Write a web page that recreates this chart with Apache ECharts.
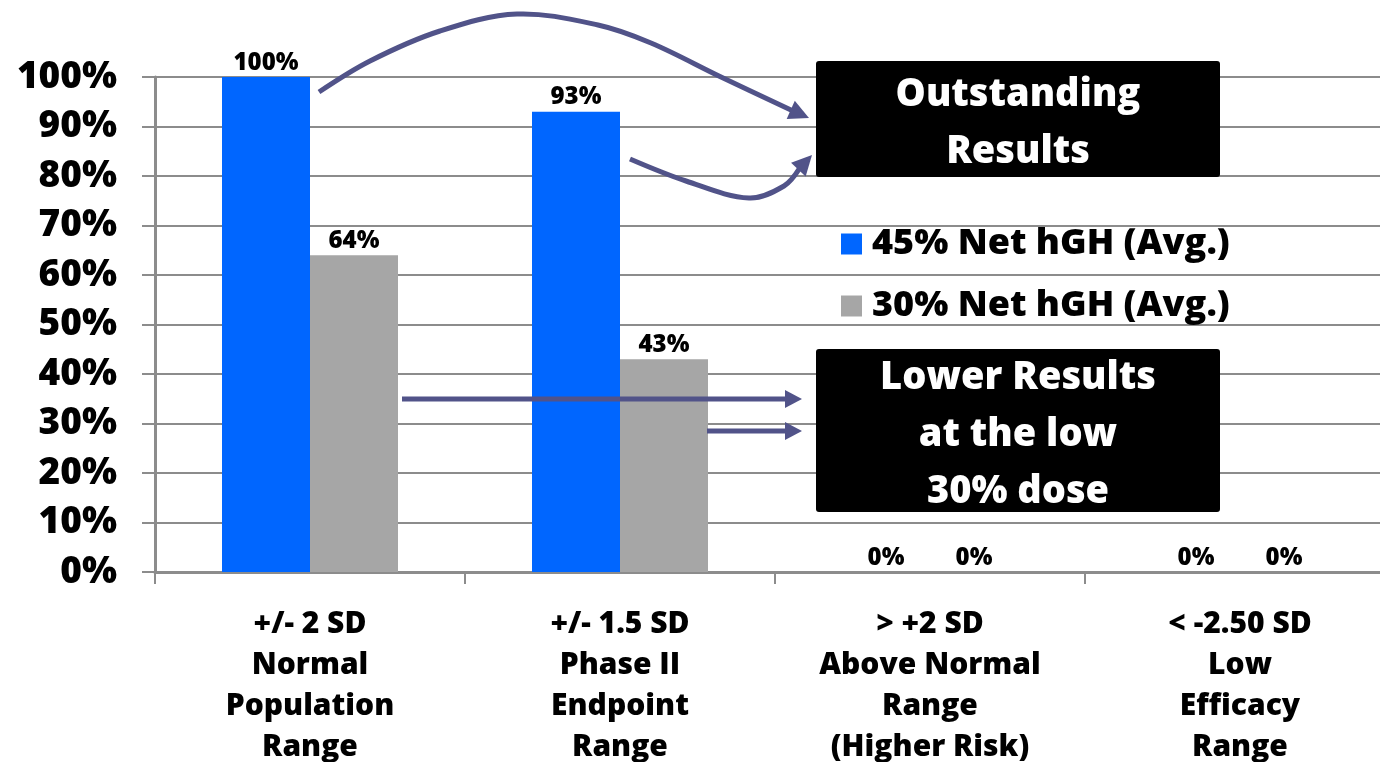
<!DOCTYPE html>
<html>
<head>
<meta charset="utf-8">
<script src="https://cdn.jsdelivr.net/npm/echarts@6/dist/echarts.min.js"></script>
<style>
  html, body { margin: 0; padding: 0; background: #fff; }
  #chart { width: 1380px; height: 762px; }
</style>
</head>
<body>
<div id="chart"></div>
<script>
// Categories (SD ranges) and the share of subjects in each range, per dose
const categories = [
  '+/- 2 SD\nNormal\nPopulation\nRange',
  '+/- 1.5 SD\nPhase II\nEndpoint\nRange',
  '> +2 SD\nAbove Normal\nRange\n(Higher Risk)',
  '< -2.50 SD\nLow\nEfficacy\nRange'
];
const seriesNames = ['45% Net hGH (Avg.)', '30% Net hGH (Avg.)'];
const dose45 = [100, 93, 0, 0];
const dose30 = [64, 43, 0, 0];
const yTicks = { min: 0, max: 100, interval: 10 };

const FONT = '"Open Sans"';
const WEIGHT = 800;
const ARROW = '#515389';
const GRID = '#8c8c8c';

// Build an arrow from a smooth path and a triangular head at its last point
function arrow(points, tip, headLen, headHalf) {
  const last = points[points.length - 1];
  const dx = tip[0] - last[0], dy = tip[1] - last[1];
  const len = Math.sqrt(dx * dx + dy * dy);
  const ux = dx / len, uy = dy / len;
  const bx = tip[0] - ux * headLen, by = tip[1] - uy * headLen;
  const px = -uy, py = ux;
  const pts = points.slice(0, -1).concat([[bx + ux * 2, by + uy * 2]]);
  return [
    {
      type: 'polyline', z: 100,
      shape: { points: pts, smooth: pts.length > 2 ? 0.35 : 0 },
      style: { stroke: ARROW, lineWidth: 5, fill: null, lineCap: 'butt' }
    },
    {
      type: 'polygon', z: 100,
      shape: { points: [tip, [bx + px * headHalf, by + py * headHalf], [bx - px * headHalf, by - py * headHalf]] },
      style: { fill: ARROW }
    }
  ];
}

// Black callout box with centred white text
function callout(x, y, w, h, lines, lineGap, fontSize) {
  const els = [{
    type: 'rect', z: 90,
    shape: { x: x, y: y, width: w, height: h, r: 3 },
    style: { fill: '#000' }
  }];
  const total = (lines.length - 1) * lineGap;
  lines.forEach(function (t, i) {
    els.push({
      type: 'text', z: 95,
      x: x + w / 2, y: y + h / 2 - total / 2 + i * lineGap + 5,
      style: {
        text: t, fill: '#fff', font: WEIGHT + ' ' + fontSize + 'px ' + FONT,
        textAlign: 'center', textVerticalAlign: 'middle'
      }
    });
  });
  return els;
}

const chart = echarts.init(document.getElementById('chart'), null, { renderer: 'canvas' });

const graphics = []
  .concat(callout(816, 61, 404, 116, ['Outstanding', 'Results'], 57, 38))
  .concat(callout(816, 349, 404, 163, ['Lower Results', 'at the low', '30% dose'], 57, 38))
  .concat(arrow([[319, 92], [370, 61], [440, 31], [517, 14], [598, 25], [651, 43], [721, 77], [791, 110]], [809, 118], 20, 10))
  .concat(arrow([[630, 159], [686, 181], [749, 198], [784, 186], [798, 170]], [812, 155], 20, 10))
  .concat(arrow([[402, 399], [785, 399]], [802, 399], 17, 9))
  .concat(arrow([[707, 431], [785, 431]], [802, 431], 17, 9));

const labelStyle = {
  show: true, position: 'top', distance: 2,
  formatter: '{c}%', color: '#000',
  fontFamily: FONT, fontWeight: WEIGHT, fontSize: 24
};

chart.setOption({
  animation: false,
  backgroundColor: '#fff',
  grid: { left: 155, width: 1240, top: 77, height: 495, containLabel: false, outerBoundsMode: 'none' },
  legend: {
    orient: 'vertical', left: 836, top: 217,
    itemWidth: 21, itemHeight: 21, itemGap: 18, icon: 'rect',
    textStyle: { fontFamily: FONT, fontWeight: WEIGHT, fontSize: 36, color: '#000', lineHeight: 44, padding: [0, 0, 0, 5] },
    data: seriesNames
  },
  xAxis: {
    type: 'category', data: categories,
    axisLine: { lineStyle: { color: GRID, width: 3 } },
    axisTick: { show: true, length: 12, lineStyle: { color: GRID, width: 2 } },
    axisLabel: {
      color: '#000', fontFamily: FONT, fontWeight: WEIGHT, fontSize: 30,
      lineHeight: 41, margin: 32, interval: 0
    }
  },
  yAxis: {
    type: 'value', min: yTicks.min, max: yTicks.max, interval: yTicks.interval,
    axisLine: { show: true, lineStyle: { color: GRID, width: 3 } },
    axisTick: { show: true, length: 13, lineStyle: { color: GRID, width: 2 } },
    splitLine: { lineStyle: { color: GRID, width: 2 } },
    axisLabel: {
      formatter: '{value}%', color: '#000', fontFamily: FONT, fontWeight: WEIGHT,
      fontSize: 37, margin: 38
    }
  },
  series: [
    {
      name: seriesNames[0], type: 'bar', data: dose45, barWidth: 88, barGap: '0%',
      itemStyle: { color: '#0066ff' }, label: labelStyle
    },
    {
      name: seriesNames[1], type: 'bar', data: dose30, barWidth: 88,
      itemStyle: { color: '#a6a6a6' }, label: labelStyle
    }
  ],
  graphic: graphics
});
</script>
</body>
</html>
